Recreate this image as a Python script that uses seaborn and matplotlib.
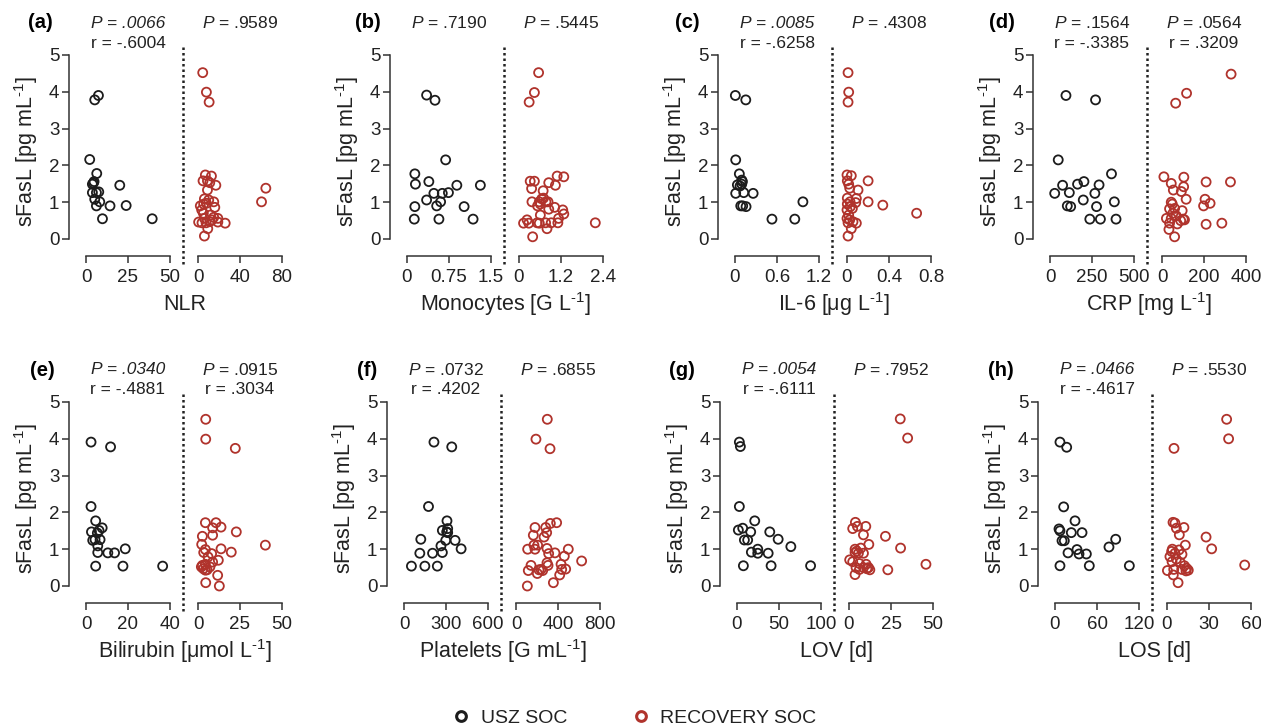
import matplotlib
matplotlib.use("Agg")
import matplotlib.pyplot as plt
from matplotlib.lines import Line2D
from matplotlib.ticker import FuncFormatter
import seaborn as sns

# ---- data (sFasL vs. clinical parameter) ----
# (a) NLR
a_usz_x = [2.2, 7.4, 5.2, 6.4, 4.8, 3.8, 4.4, 20.1, 3.8, 6.2, 7.6, 5.2, 8.2, 6.2, 14.3, 23.9, 9.8, 39.4]
a_usz_y = [2.16, 3.90, 3.78, 1.78, 1.56, 1.49, 1.52, 1.46, 1.26, 1.26, 1.28, 1.08, 1.01, 0.90, 0.90, 0.91, 0.55, 0.55]
a_rec_x = [4.5, 8.0, 10.6, 7.0, 12.8, 4.8, 9.0, 17.0, 9.0, 11.2, 6.1, 10.2, 15.0, 5.4, 2.2, 16.0, 3.5,
           5.1, 11.8, 6.1, 15.0, 18.9, 0.6, 7.7, 11.2, 18.9, 25.9, 9.3, 6.1, 60.5, 64.6, 3.8, 13.4, 8.0]
a_rec_y = [4.52, 3.99, 3.72, 1.74, 1.71, 1.58, 1.58, 1.46, 1.33, 1.53, 1.09, 1.06, 1.01, 0.95, 0.90, 0.86, 0.79,
           0.70, 0.65, 0.56, 0.59, 0.56, 0.46, 0.44, 0.47, 0.46, 0.43, 0.28, 0.08, 1.01, 1.38, 0.44, 0.52, 0.97]

# (b) Monocytes
b_usz_x = [0.35, 0.50, 0.69, 0.14, 0.15, 0.39, 0.89, 1.31, 0.48, 0.63, 0.74, 0.35, 0.60, 0.14, 0.53, 1.02, 0.13, 0.57, 1.18]
b_usz_y = [3.91, 3.77, 2.15, 1.77, 1.49, 1.56, 1.46, 1.46, 1.24, 1.24, 1.26, 1.06, 1.01, 0.88, 0.90, 0.88, 0.54, 0.54, 0.54]
b_rec_x = [0.56, 0.44, 0.29, 0.32, 0.44, 0.36, 0.85, 1.04, 1.09, 1.28, 0.69, 0.65, 0.58, 0.37, 0.53, 0.83, 0.61,
           1.02, 1.25, 1.28, 0.61, 0.85, 0.23, 0.28, 0.13, 0.52, 0.58, 0.76, 0.92, 0.80, 1.11, 1.13, 0.39, 2.18,
           0.77, 0.70]
b_rec_y = [4.52, 3.98, 3.72, 1.57, 1.57, 1.37, 1.53, 1.46, 1.71, 1.69, 1.31, 1.09, 1.01, 1.01, 0.90, 1.01, 0.95,
           0.86, 0.79, 0.68, 0.65, 0.81, 0.52, 0.43, 0.43, 0.44, 0.43, 0.44, 0.44, 0.28, 0.44, 0.56, 0.06, 0.44,
           1.01, 1.11]

# (c) IL-6
c_usz_x = [0.005, 0.154, 0.01, 0.062, 0.106, 0.096, 0.034, 0.01, 0.125, 0.259, 0.082, 0.11, 0.158, 0.528, 0.854, 0.970, 0.096, 0.072]
c_usz_y = [3.90, 3.78, 2.15, 1.77, 1.56, 1.49, 1.47, 1.24, 1.26, 1.24, 0.90, 0.90, 0.88, 0.54, 0.54, 1.01, 1.60, 1.44]
c_rec_x = [0.01, 0.016, 0.01, 0.0, 0.041, 0.003, 0.016, 0.026, 0.105, 0.201, 0.003, 0.089, 0.083, 0.029, 0.201,
           0.341, 0.032, 0.0, 0.016, 0.0, 0.026, 0.057, 0.089, 0.01, 0.041, 0.01, 0.663, 0.003, 0.051]
c_rec_y = [4.52, 3.99, 3.72, 1.74, 1.72, 1.58, 1.49, 1.38, 1.33, 1.58, 1.11, 1.10, 0.99, 1.01, 1.01,
           0.92, 0.88, 0.79, 0.65, 0.56, 0.52, 0.47, 0.43, 0.44, 0.28, 0.08, 0.70, 0.95, 0.83]

# (d) CRP
d_usz_x = [95, 271, 49, 366, 202, 164, 292, 75, 28, 115, 267, 198, 383, 103, 123, 277, 237, 300, 393]
d_usz_y = [3.90, 3.78, 2.15, 1.77, 1.56, 1.49, 1.47, 1.46, 1.24, 1.26, 1.24, 1.06, 1.01, 0.90, 0.88, 0.88, 0.54, 0.54, 0.54]
d_rec_x = [329, 117, 65, 9, 104, 44, 103, 210, 326, 54, 92, 115, 205, 229, 198, 44, 49, 36, 60, 96, 21, 44,
           68, 101, 89, 36, 73, 33, 60, 210, 285, 52, 107]
d_rec_y = [4.48, 3.96, 3.69, 1.69, 1.68, 1.51, 1.42, 1.55, 1.55, 1.33, 1.29, 1.08, 1.08, 0.97, 0.90, 1.00, 0.95,
           0.82, 0.83, 0.77, 0.56, 0.56, 0.63, 0.54, 0.50, 0.43, 0.41, 0.26, 0.06, 0.40, 0.43, 0.70, 0.52]

# (e) Bilirubin
e_usz_x = [2.4, 11.7, 2.4, 4.6, 2.6, 7.7, 6.2, 5.4, 3.2, 4.3, 6.7, 5.6, 5.6, 10.4, 13.6, 18.7, 4.6, 17.6, 36.5]
e_usz_y = [3.91, 3.78, 2.16, 1.77, 1.47, 1.58, 1.51, 1.44, 1.24, 1.26, 1.26, 1.09, 0.91, 0.90, 0.90, 1.01, 0.54, 0.54, 0.54]
e_rec_x = [4.6, 4.6, 22.2, 4.4, 10.7, 8.7, 13.7, 22.8, 2.6, 8.7, 2.2, 4.4, 3.4, 8.1, 13.7, 19.8, 40.1, 6.0,
           12.1, 8.7, 2.6, 4.4, 3.2, 5.4, 2.0, 4.4, 11.7, 4.6, 12.7, 7.1]
e_rec_y = [4.53, 3.99, 3.74, 1.72, 1.72, 1.58, 1.60, 1.47, 1.35, 1.38, 1.13, 0.99, 0.91, 0.88, 1.01, 0.92, 1.11, 0.79,
           0.70, 0.65, 0.56, 0.59, 0.47, 0.44, 0.52, 0.43, 0.29, 0.09, 0.00, 0.52]

# (f) Platelets
f_usz_x = [214, 341, 175, 307, 274, 312, 305, 120, 298, 365, 264, 113, 204, 274, 408, 53, 149, 238, 312]
f_usz_y = [3.91, 3.78, 2.16, 1.77, 1.51, 1.56, 1.47, 1.27, 1.24, 1.24, 1.09, 0.89, 0.89, 0.91, 1.01, 0.54, 0.54, 0.54, 1.45]
f_rec_x = [298, 190, 324, 181, 165, 283, 327, 387, 292, 267, 171, 206, 111, 181, 295, 498, 311, 371, 460, 295,
           305, 143, 117, 203, 238, 254, 429, 435, 473, 416, 356, 108, 625, 219]
f_rec_y = [4.53, 3.99, 3.73, 1.59, 1.38, 1.59, 1.70, 1.72, 1.45, 1.33, 1.11, 1.11, 1.00, 1.00, 1.02, 1.00, 0.88,
           0.90, 0.81, 0.63, 0.56, 0.56, 0.42, 0.34, 0.45, 0.42, 0.59, 0.45, 0.46, 0.30, 0.09, 0.00, 0.68, 0.44]

# (g) LOV
g_usz_x = [2.8, 4.0, 2.8, 21.1, 1.6, 6.8, 16.3, 39.0, 8.8, 12.7, 49.0, 64.1, 24.7, 17.1, 24.7, 37.1, 7.6, 40.6, 87.6]
g_usz_y = [3.91, 3.79, 2.16, 1.77, 1.52, 1.57, 1.47, 1.47, 1.25, 1.25, 1.27, 1.07, 1.00, 0.92, 0.89, 0.89, 0.55, 0.55, 0.55]
g_rec_x = [30.5, 34.9, 3.8, 2.2, 5.0, 10.0, 8.6, 21.7, 11.8, 30.7, 3.6, 7.0, 3.6, 5.6, 8.6, 0.4, 2.2, 6.2, 10.2,
           4.2, 6.2, 8.6, 10.6, 12.4, 23.1, 3.6, 45.8, 4.6, 11.6]
g_rec_y = [4.54, 4.02, 1.73, 1.56, 1.62, 1.62, 1.39, 1.35, 1.13, 1.03, 1.00, 1.03, 0.91, 0.89, 0.89, 0.71, 0.66,
           0.61, 0.59, 0.50, 0.45, 0.50, 0.47, 0.44, 0.44, 0.31, 0.59, 0.95, 0.50]

# (h) LOS
h_usz_x = [7.1, 16.7, 12.4, 28.6, 5.7, 7.1, 23.3, 38.6, 10.0, 13.3, 86.7, 77.1, 31.4, 18.6, 34.3, 44.8, 7.1, 49.0, 106.2]
h_usz_y = [3.91, 3.77, 2.15, 1.77, 1.55, 1.50, 1.45, 1.45, 1.23, 1.23, 1.27, 1.06, 0.99, 0.90, 0.87, 0.87, 0.55, 0.55, 0.55]
h_rec_x = [42.6, 44.0, 5.0, 4.3, 5.7, 6.7, 12.1, 8.8, 27.9, 31.9, 13.1, 3.8, 3.3, 5.7, 10.7, 2.1, 3.6, 6.7, 9.5,
           12.4, 0.3, 4.8, 10.5, 14.0, 15.2, 4.5, 7.9, 55.5, 13.6, 8.6]
h_rec_y = [4.53, 4.00, 3.74, 1.73, 1.71, 1.57, 1.59, 1.39, 1.33, 1.01, 1.11, 1.00, 0.94, 0.89, 0.86, 0.80, 0.66,
           0.73, 0.64, 0.55, 0.42, 0.45, 0.45, 0.48, 0.43, 0.30, 0.09, 0.57, 0.41, 0.98]

tags = ["(a)", "(b)", "(c)", "(d)", "(e)", "(f)", "(g)", "(h)"]
SUP = "$^{\\text{-1}}$"
xlabels = ["NLR", "Monocytes [G L" + SUP + "]", "IL-6 [μg L" + SUP + "]", "CRP [mg L" + SUP + "]",
           "Bilirubin [μmol L" + SUP + "]", "Platelets [G mL" + SUP + "]", "LOV [d]", "LOS [d]"]
ylabel = "sFasL [pg mL" + SUP + "]"
usz_ticks = [[0, 25, 50], [0, 0.75, 1.5], [0, 0.6, 1.2], [0, 250, 500],
             [0, 20, 40], [0, 300, 600], [0, 50, 100], [0, 60, 120]]
rec_ticks = [[0, 40, 80], [0, 1.2, 2.4], [0, 0.4, 0.8], [0, 200, 400],
             [0, 25, 50], [0, 400, 800], [0, 25, 50], [0, 30, 60]]
p_usz = [".0066", ".7190", ".0085", ".1564", ".0340", ".0732", ".0054", ".0466"]
r_usz = ["-.6004", None, "-.6258", "-.3385", "-.4881", ".4202", "-.6111", "-.4617"]
p_rec = [".9589", ".5445", ".4308", ".0564", ".0915", ".6855", ".7952", ".5530"]
r_rec = [None, None, None, ".3209", ".3034", None, None, None]
groups = ["USZ SOC", "RECOVERY SOC"]

usz_data = [(a_usz_x, a_usz_y), (b_usz_x, b_usz_y), (c_usz_x, c_usz_y), (d_usz_x, d_usz_y),
            (e_usz_x, e_usz_y), (f_usz_x, f_usz_y), (g_usz_x, g_usz_y), (h_usz_x, h_usz_y)]
rec_data = [(a_rec_x, a_rec_y), (b_rec_x, b_rec_y), (c_rec_x, c_rec_y), (d_rec_x, d_rec_y),
            (e_rec_x, e_rec_y), (f_rec_x, f_rec_y), (g_rec_x, g_rec_y), (h_rec_x, h_rec_y)]

BLACK = "#1c1c1c"
RED = "#b0332c"
TXT = "#222222"

sns.set_theme(style="ticks")
plt.rcParams["font.family"] = ["Liberation Sans", "DejaVu Sans"]
plt.rcParams["mathtext.fontset"] = "custom"
plt.rcParams["mathtext.rm"] = "Liberation Sans"
plt.rcParams["mathtext.it"] = "Liberation Sans:italic"
plt.rcParams["mathtext.bf"] = "Liberation Sans:bold"
plt.rcParams["axes.edgecolor"] = "#333333"
plt.rcParams["axes.linewidth"] = 1.1

W, H = 1261, 726
fig = plt.figure(figsize=(W / 100, H / 100), dpi=100)

# layout in pixels
spine_x = [69, 390, 718, 1033, 69, 387, 720, 1038]
row_top = [47, 394]
row_bot = [256, 603]
tag_x = [40, 368, 687, 1002, 42, 367, 682, 1001]
YLO, YHI = -0.462, 5.217

fmt = FuncFormatter(lambda v, pos: "%g" % v)


def px_axes(x0, x1, top, bot):
    return fig.add_axes([x0 / W, 1 - bot / H, (x1 - x0) / W, (bot - top) / H])


def stat_text(ax, xmid, p, r, y_p, y_r):
    sig = float(p) < 0.05
    tr = ax.get_xaxis_transform()
    if sig:
        ax.text(xmid, y_p, "P = " + p, transform=tr, ha="center", va="center",
                fontsize=12.5, style="italic", color=TXT)
    else:
        ax.text(xmid, y_p, "$\\it{P}$ = " + p, transform=tr, ha="center", va="center",
                fontsize=12.5, color=TXT)
    if r is not None:
        ax.text(xmid, y_r, "r = " + r, transform=tr, ha="center", va="center",
                fontsize=12.5, color=TXT)


def draw_sub(ax, x, y, color, ticks, px0, px1, axl, axr, show_y):
    k = ticks[-1] / (px1 - px0)
    ax.set_xlim((axl - px0) * k, (axr - px0) * k)
    ax.set_ylim(YLO, YHI)
    sns.scatterplot(x=x, y=y, ax=ax, s=42, facecolor="none", edgecolor=color,
                    linewidth=1.3, legend=False, clip_on=False)
    ax.set_xticks(ticks)
    ax.xaxis.set_major_formatter(fmt)
    ax.spines["top"].set_visible(False)
    ax.spines["right"].set_visible(False)
    ax.spines["bottom"].set_bounds(ticks[0], ticks[-1])
    ax.tick_params(axis="x", length=5, width=1.1, pad=4.5, labelsize=13.5, colors="#333333", labelcolor=TXT)
    if show_y:
        ax.set_yticks([0, 1, 2, 3, 4, 5])
        ax.spines["left"].set_bounds(0, 5)
        ax.tick_params(axis="y", length=5, width=1.1, pad=2, labelsize=13.5, colors="#333333", labelcolor=TXT)
        ax.set_ylabel(ylabel, fontsize=15.5, labelpad=6, color=TXT)
    else:
        ax.spines["left"].set_visible(False)
        ax.tick_params(axis="y", left=False, labelleft=False)
    ax.set_xlabel("")
    ax.patch.set_alpha(0)


for i in range(8):
    row = i // 4
    top, bot = row_top[row], row_bot[row]
    S = spine_x[i]
    l0, l1, dx, r0, r1 = S + 17, S + 101, S + 114, S + 129, S + 213
    yp = (bot - (top - 24)) / (bot - top)
    yr = (bot - (top - 4)) / (bot - top)

    axl = px_axes(S, l1 + 5, top, bot)
    draw_sub(axl, usz_data[i][0], usz_data[i][1], BLACK, usz_ticks[i], l0, l1, S, l1 + 5, True)
    stat_text(axl, usz_ticks[i][-1] / 2, p_usz[i], r_usz[i], yp, yr)

    axr = px_axes(r0 - 8, r1 + 5, top, bot)
    draw_sub(axr, rec_data[i][0], rec_data[i][1], RED, rec_ticks[i], r0, r1, r0 - 8, r1 + 5, False)
    stat_text(axr, rec_ticks[i][-1] / 2, p_rec[i], r_rec[i], yp, yr)

    # dotted separator between the two cohorts
    fig.add_artist(Line2D([dx / W, dx / W], [1 - top / H, 1 - (bot + 10) / H], transform=fig.transFigure,
                          color="#222222", lw=1.8, linestyle=(0, (1, 1.2))))
    fig.text((dx + 2) / W, 1 - (bot + 48) / H, xlabels[i], ha="center", va="center", fontsize=15.5, color=TXT)
    fig.text(tag_x[i] / W, 1 - (top - 24) / H, tags[i], ha="center", va="center", fontsize=14.5,
             fontweight="bold", color="black")

handles = [Line2D([], [], ls="", marker="o", mfc="none", mec=BLACK, mew=2.2, ms=7),
           Line2D([], [], ls="", marker="o", mfc="none", mec=RED, mew=2.2, ms=7)]
fig.legend(handles, groups, loc="center", bbox_to_anchor=(635 / W, 8 / H), ncol=2, frameon=False,
           fontsize=14, handlelength=0.8, handletextpad=0.6, columnspacing=3.4, labelcolor=TXT,
           borderpad=0, borderaxespad=0)

fig.savefig("out.png", dpi=100, facecolor="white")
